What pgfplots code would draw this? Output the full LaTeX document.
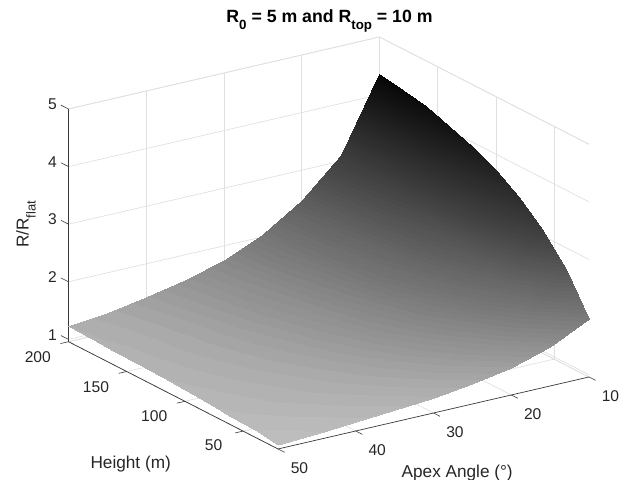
\documentclass[border=0pt]{standalone}
\usepackage{fontspec}
\setmainfont{Liberation Sans}
\usepackage{pgfplots}
\pgfplotsset{compat=1.18}
\usepackage{pgfplotstable}
\usetikzlibrary{calc}
\definecolor{axdark}{gray}{0.22}
\definecolor{gridc}{gray}{0.88}
\definecolor{txt}{gray}{0.15}
\pgfplotstableread{
a h z
10 20 1.96
15 20 1.63
20 20 1.42
25 20 1.30
30 20 1.22
35 20 1.16
40 20 1.11
45 20 1.07
50 20 1.03
10 40 2.62
15 40 1.96
20 40 1.63
25 40 1.44
30 40 1.32
35 40 1.23
40 40 1.17
45 40 1.12
50 40 1.08
10 60 3.12
15 60 2.24
20 60 1.84
25 60 1.58
30 60 1.41
35 60 1.30
40 60 1.23
45 60 1.17
50 60 1.11
10 80 3.47
15 80 2.47
20 80 2.00
25 80 1.70
30 80 1.49
35 80 1.36
40 80 1.27
45 80 1.20
50 80 1.14
10 100 3.73
15 100 2.65
20 100 2.13
25 100 1.79
30 100 1.56
35 100 1.41
40 100 1.31
45 100 1.23
50 100 1.16
10 120 3.92
15 120 2.79
20 120 2.24
25 120 1.86
30 120 1.61
35 120 1.45
40 120 1.34
45 120 1.25
50 120 1.18
10 140 4.08
15 140 2.90
20 140 2.32
25 140 1.92
30 140 1.66
35 140 1.49
40 140 1.36
45 140 1.27
50 140 1.19
10 160 4.21
15 160 3.00
20 160 2.39
25 160 1.97
30 160 1.70
35 160 1.52
40 160 1.38
45 160 1.28
50 160 1.20
10 180 4.29
15 180 3.06
20 180 2.44
25 180 2.01
30 180 1.73
35 180 1.54
40 180 1.40
45 180 1.29
50 180 1.22
10 200 4.35
15 200 3.11
20 200 2.49
25 200 2.04
30 200 1.75
35 200 1.56
40 200 1.42
45 200 1.31
50 200 1.23
}\surfdata
% banded grey colour scale: one step per 0.05 of R/Rflat
\def\cmlist{}
\pgfplotsforeachungrouped \k in {0,...,66}{%
  \pgfmathsetmacro\zm{1.055+0.05*\k}%
  \pgfmathsetmacro\g{\zm<1.23 ? 0.75-0.30*(\zm-1.03) : (\zm<1.5 ? 0.69-0.333*(\zm-1.23) : (\zm<2 ? 0.60-0.26*(\zm-1.5) : (\zm<3 ? 0.47-0.21*(\zm-2) : 0.26-0.175*(\zm-3))))}%
  \pgfmathsetmacro\pa{int(50*\k)}%
  \pgfmathsetmacro\pb{int(50*\k+49)}%
  \xdef\cmlist{\cmlist gray(\pa pt)=(\g); gray(\pb pt)=(\g);}%
}
\edef\tmpcm{\noexpand\pgfplotsset{colormap={mygray}{\cmlist}}}
\tmpcm
\begin{document}
\begin{tikzpicture}
\begin{axis}[
  x={(7.775pt,1.8pt)}, x dir=reverse, y={(-1.164pt,0.596pt)}, z={(0pt,57.6pt)},
  xmin=10,xmax=50,ymin=20,ymax=200,zmin=0.96,zmax=5,
  xtick={10,20,30,40,50}, ytick={50,100,150,200}, ztick={1,2,3,4,5},
  grid=major, major grid style={gridc,line width=0.7pt},
  axis line style={draw=none},
  tick style={draw=none}, tick align=outside, major tick length=8pt,
  xtick pos=left, ytick pos=left, ztick pos=left,
  clip=false,
  ticklabel style={font=\fontsize{15.6}{18}\selectfont,text=txt},
  xticklabel style={xshift=8pt,yshift=-5pt},
  yticklabel style={xshift=-13pt,yshift=-1pt},
  zticklabel style={xshift=-1pt},
  /pgf/number format/assume math mode=true,
  colormap name=mygray,
  point meta min=1.03, point meta max=4.38,
]
\coordinate (L) at (axis cs:50,200,0.96);
\addplot3[gridc,line width=0.7pt] coordinates {(50,200,5)(10,200,5)(10,20,5)};
\addplot3[gridc,line width=0.7pt] coordinates {(10,200,0.96)(10,200,5)};
\addplot3[gridc,line width=0.7pt] coordinates {(50,200,0.96)(10,200,0.96)(10,20,0.96)};
\addplot3[axdark,line width=0.7pt] coordinates {(50,200,0.96)(50,200,5)};
\addplot3[axdark,line width=0.7pt] coordinates {(50,200,0.96)(50,20,0.96)};
\addplot3[axdark,line width=0.7pt] coordinates {(50,20,0.96)(10,20,0.96)};
% tick marks
\addplot3[axdark,line width=0.6pt] coordinates {(50,200,1)(50,206.5,1)};
\addplot3[axdark,line width=0.6pt] coordinates {(50,200,2)(50,206.5,2)};
\addplot3[axdark,line width=0.6pt] coordinates {(50,200,3)(50,206.5,3)};
\addplot3[axdark,line width=0.6pt] coordinates {(50,200,4)(50,206.5,4)};
\addplot3[axdark,line width=0.6pt] coordinates {(50,200,5)(50,206.5,5)};
\addplot3[axdark,line width=0.6pt] coordinates {(50,50,0.96)(51.03,50,0.96)};
\addplot3[axdark,line width=0.6pt] coordinates {(50,100,0.96)(51.03,100,0.96)};
\addplot3[axdark,line width=0.6pt] coordinates {(50,150,0.96)(51.03,150,0.96)};
\addplot3[axdark,line width=0.6pt] coordinates {(50,200,0.96)(51.03,200,0.96)};
\addplot3[axdark,line width=0.6pt] coordinates {(10,20,0.96)(10,14.4,0.96)};
\addplot3[axdark,line width=0.6pt] coordinates {(20,20,0.96)(20,14.4,0.96)};
\addplot3[axdark,line width=0.6pt] coordinates {(30,20,0.96)(30,14.4,0.96)};
\addplot3[axdark,line width=0.6pt] coordinates {(40,20,0.96)(40,14.4,0.96)};
\addplot3[axdark,line width=0.6pt] coordinates {(50,20,0.96)(50,14.4,0.96)};
\addplot3[surf,shader=interp,mesh/rows=10,mesh/cols=9] table[x=a,y=h,z=z] {\surfdata};
\end{axis}
\begin{scope}[shift={(L)},x=1pt,y=-1pt,shift={(-68.5,-341.7)}]
\node[font=\fontsize{17.7}{20}\selectfont\bfseries] at (329.5,21) {R\raisebox{-0.4em}{\fontsize{13.3}{12}\selectfont 0} = 5 m and R\raisebox{-0.4em}{\fontsize{13.3}{12}\selectfont top} = 10 m};
\node[font=\fontsize{17.2}{20}\selectfont,text=txt] at (130.7,464) {Height (m)};
\node[font=\fontsize{17.2}{20}\selectfont,text=txt] at (457.2,473) {Apex Angle (°)};
\node[font=\fontsize{17.2}{20}\selectfont,text=txt,rotate=90] at (26,224.5) {R/R\raisebox{-0.4em}{\fontsize{13}{12}\selectfont flat}};
\pgfresetboundingbox
\path[use as bounding box] (0,0) rectangle (625,480);
\end{scope}
\end{tikzpicture}
\end{document}
